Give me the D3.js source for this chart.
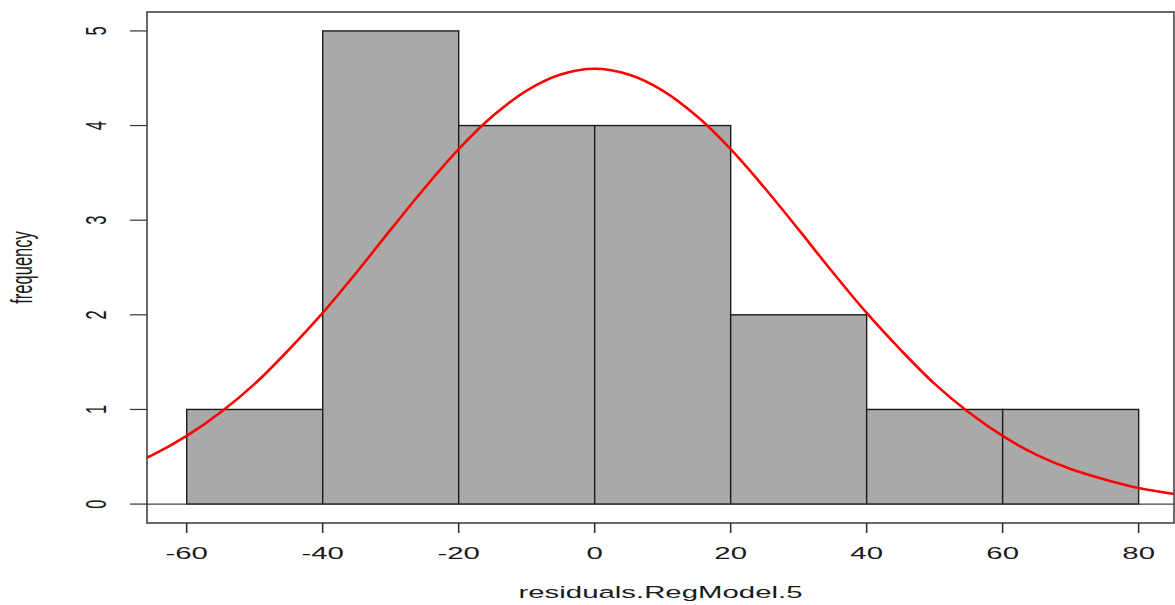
<!DOCTYPE html>
<html>
<head>
<meta charset="utf-8">
<script src="https://cdn.jsdelivr.net/npm/d3@7"></script>
<style>
  body { margin: 0; background: #fff; }
  svg { display: block; }
  text { font-family: "Liberation Sans", Arial, sans-serif; fill: #1a1a1a; }
</style>
</head>
<body>
<div id="my_dataviz"></div>
<script>
// histogram bins and counts
var binEdges = [-60, -40, -20, 0, 20, 40, 60, 80];
var counts = [1, 5, 4, 4, 2, 1, 1];
var xTicks = [-60, -40, -20, 0, 20, 40, 60, 80];
var yTicks = [0, 1, 2, 3, 4, 5];
// normal curve
var curveX = [-70, -65, -60, -55, -50, -45, -40, -35, -30, -25, -20, -15, -10, -5, 0,
              5, 10, 15, 20, 25, 30, 35, 40, 45, 50, 55, 60, 65, 70, 75, 80, 85, 90];
var curveY = [0.37, 0.52, 0.72, 0.97, 1.27, 1.63, 2.02, 2.45, 2.90, 3.34, 3.75, 4.10, 4.37, 4.54, 4.60,
              4.54, 4.37, 4.10, 3.75, 3.34, 2.90, 2.45, 2.02, 1.63, 1.27, 0.97, 0.72, 0.52, 0.37, 0.26, 0.17, 0.11, 0.07];

var xLabel = "residuals.RegModel.5",
    yLabel = "frequency";

var W = 1175, H = 605;
var margin = {top: 12, right: 1, bottom: 82, left: 147},
  width = W - margin.left - margin.right,
  height = H - margin.top - margin.bottom;
var stretch = 1.78;   // the original picture is stretched sideways

var svg = d3.select("#my_dataviz")
  .append("svg")
  .attr("width", W)
  .attr("height", H);

var x = d3.scaleLinear()
  .domain([-65.84, 85.2])
  .range([margin.left, margin.left + width]);
var y = d3.scaleLinear()
  .domain([-0.2, 5.2])
  .range([margin.top + height, margin.top]);

var bins = counts.map(function(c, i) {
  return {x0: binEdges[i], x1: binEdges[i + 1], n: c};
});

svg.append("clipPath")
  .attr("id", "plotclip")
  .append("rect")
  .attr("x", margin.left)
  .attr("y", margin.top)
  .attr("width", width)
  .attr("height", height);

// bars
svg.selectAll(".bar")
  .data(bins)
  .enter().append("rect")
  .attr("class", "bar")
  .attr("x", function(d) { return x(d.x0); })
  .attr("y", function(d) { return y(d.n); })
  .attr("width", function(d) { return x(d.x1) - x(d.x0); })
  .attr("height", function(d) { return y(0) - y(d.n); })
  .style("fill", "#a9a9a9")
  .style("stroke", "#1a1a1a")
  .style("stroke-width", 1.4);

// zero line
svg.append("line")
  .attr("x1", margin.left)
  .attr("x2", margin.left + width)
  .attr("y1", y(0))
  .attr("y2", y(0))
  .style("stroke", "#444")
  .style("stroke-width", 1.2);

// normal curve
var line = d3.line()
  .x(function(d, i) { return x(curveX[i]); })
  .y(function(d) { return y(d); })
  .curve(d3.curveCatmullRom);

svg.append("path")
  .datum(curveY)
  .attr("clip-path", "url(#plotclip)")
  .attr("d", line)
  .style("fill", "none")
  .style("stroke", "#ff0000")
  .style("stroke-width", 2.6);

// box
svg.append("rect")
  .attr("x", margin.left)
  .attr("y", margin.top)
  .attr("width", width)
  .attr("height", height)
  .style("fill", "none")
  .style("stroke", "#444")
  .style("stroke-width", 1.6);

// x axis ticks
svg.selectAll(".xtick")
  .data(xTicks)
  .enter().append("line")
  .attr("class", "xtick")
  .attr("x1", function(d) { return x(d); })
  .attr("x2", function(d) { return x(d); })
  .attr("y1", margin.top + height)
  .attr("y2", margin.top + height + 10)
  .style("stroke", "#333")
  .style("stroke-width", 1.6);

svg.selectAll(".xlab")
  .data(xTicks)
  .enter().append("text")
  .attr("class", "xlab")
  .attr("transform", function(d) { return "translate(" + x(d) + ",559) scale(" + stretch + ",1)"; })
  .attr("text-anchor", "middle")
  .style("font-size", "16.5px")
  .text(function(d) { return d; });

// y axis ticks
svg.selectAll(".ytick")
  .data(yTicks)
  .enter().append("line")
  .attr("class", "ytick")
  .attr("x1", margin.left - 17)
  .attr("x2", margin.left)
  .attr("y1", function(d) { return y(d); })
  .attr("y2", function(d) { return y(d); })
  .style("stroke", "#333")
  .style("stroke-width", 1.2);

svg.selectAll(".ylab")
  .data(yTicks)
  .enter().append("text")
  .attr("class", "ylab")
  .attr("transform", function(d) { return "translate(95," + y(d) + ") scale(" + stretch + ",1) rotate(-90)"; })
  .attr("text-anchor", "middle")
  .attr("dy", "0.36em")
  .style("font-size", "16.5px")
  .text(function(d) { return d; });

// axis titles
svg.append("text")
  .attr("transform", "translate(" + (margin.left + width / 2) + ",598) scale(" + stretch + ",1)")
  .attr("text-anchor", "middle")
  .style("font-size", "16.5px")
  .text(xLabel);

svg.append("text")
  .attr("transform", "translate(32," + (margin.top + height / 2) + ") scale(" + stretch + ",1) rotate(-90)")
  .attr("text-anchor", "middle")
  .style("font-size", "16.5px")
  .text(yLabel);
</script>
</body>
</html>
